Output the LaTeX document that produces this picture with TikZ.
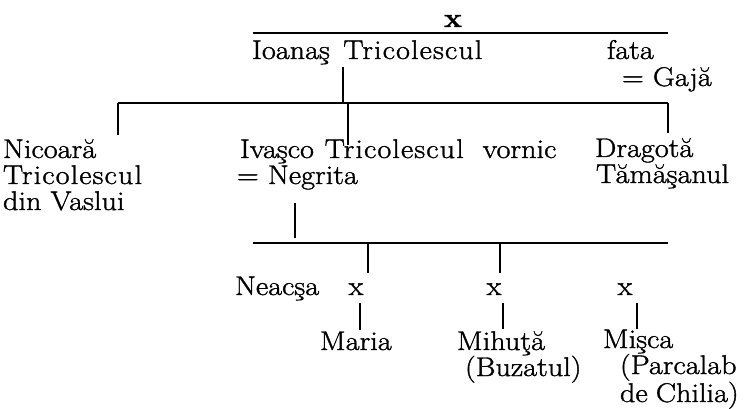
\documentclass[tikz,border=0pt]{standalone}
\usepackage{fontspec}
\setmainfont{Latin Modern Roman}[FakeStretch=1.12,FakeBold=1.3]
\newcommand{\tricword}{{\addfontfeature{LetterSpace=4}Tricolescul}}
\begin{document}
\begin{tikzpicture}[x=1pt,y=-1pt,
  txt/.style={anchor=base west,inner sep=0pt,outer sep=0pt,font=\fontsize{27}{26}\selectfont},
  bar/.style={line width=1.8pt},
  stem/.style={line width=1.6pt}]
\useasboundingbox (0,0) rectangle (745,409);
% --- text nodes (multi-line nodes are anchored at the baseline of their last line) ---
\node[txt,anchor=base] (xtop) at (453,27) {\textbf{x}};
\node[txt] (ioanas) at (252,59) {Ioanaş\hspace{0.5em}\tricword};
\node[txt] (fata) at (607,59) {fata};
\node[txt] (gaja) at (622,86) {= Gajă};
\node[txt,align=left] (nicoara) at (3,210) {Nicoară\\\tricword\\din Vaslui};
\node[txt,align=left] (ivasco) at (240,184) {Ivaşco\hspace{0.4em}\tricword\hspace{0.7em}vornic\\\hspace{-3pt}= Negrita};
\node[txt,align=left] (dragota) at (595,183) {Dragotă\\\hspace{1pt}Tămăşanul};
\node[txt] (neacsa) at (235,295) {Neacşa};
\node[txt,anchor=base] (xa) at (356,295) {x};
\node[txt,anchor=base] (xb) at (494,295) {x};
\node[txt,anchor=base] (xc) at (625,295) {x};
\node[txt] (maria) at (320,350) {Maria};
\node[txt,align=left] (mihuta) at (457,376) {Mihuţă\\\hspace{8pt}(Buzatul)};
\node[txt,align=left] (misca) at (603,402) {Mişca\\\hspace{17pt}(Parcalab\\\hspace{17pt}de\hspace{0.3em}Chilia)};
% --- bar coordinates ---
\coordinate (b1l) at (253,33);  \coordinate (b1r) at (668,33);
\coordinate (b2l) at (118,103); \coordinate (b2r) at (668,103);
\coordinate (b3l) at (253,243); \coordinate (b3r) at (668,243);
% --- stem coordinates ---
\coordinate (s1t) at (343,67);  \coordinate (s1b) at (343,103);
\coordinate (s2t) at (118,103); \coordinate (s2b) at (118,135);
\coordinate (s3t) at (348,103); \coordinate (s3b) at (348,145);
\coordinate (s4t) at (668,103); \coordinate (s4b) at (668,133);
\coordinate (s5t) at (295,203); \coordinate (s5b) at (295,238);
\coordinate (s6t) at (368,243); \coordinate (s6b) at (368,273);
\coordinate (s7t) at (500,243); \coordinate (s7b) at (500,273);
\coordinate (s8t) at (360,303); \coordinate (s8b) at (360,330);
\coordinate (s9t) at (503,303); \coordinate (s9b) at (503,329);
\coordinate (s10t) at (637,303); \coordinate (s10b) at (637,329);
% --- bars ---
\draw[bar] (b1l) -- (b1r);
\draw[bar] (b2l) -- (b2r);
\draw[bar] (b3l) -- (b3r);
% --- stems ---
\draw[stem] (s1t) -- (s1b);
\draw[stem] (s2t) -- (s2b);
\draw[stem] (s3t) -- (s3b);
\draw[stem] (s4t) -- (s4b);
\draw[stem] (s5t) -- (s5b);
\draw[stem] (s6t) -- (s6b);
\draw[stem] (s7t) -- (s7b);
\draw[stem] (s8t) -- (s8b);
\draw[stem] (s9t) -- (s9b);
\draw[stem] (s10t) -- (s10b);
\end{tikzpicture}
\end{document}
